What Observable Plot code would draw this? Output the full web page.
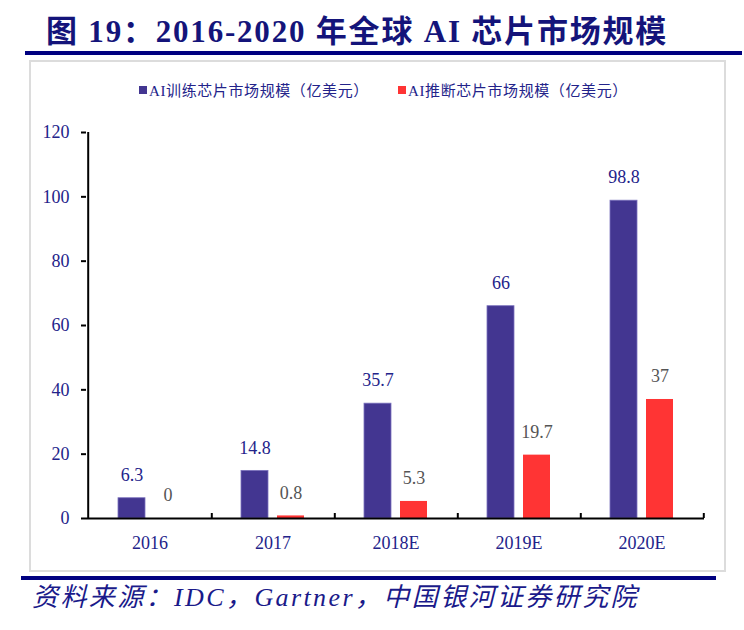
<!DOCTYPE html>
<html><head><meta charset="utf-8">
<script src="https://cdn.jsdelivr.net/npm/d3@7"></script>
<script src="https://cdn.jsdelivr.net/npm/@observablehq/plot@0.6"></script>
<style>
body{margin:0;background:#fff;}
#wrap{position:relative;width:744px;height:630px;overflow:hidden;background:#fff;}
#title{position:absolute;left:46px;top:12px;line-height:40px;font-family:"Liberation Serif","Noto Sans CJK SC",serif;font-weight:bold;font-size:31px;letter-spacing:1.8px;color:#14147a;white-space:nowrap;}
.rule{position:absolute;height:4px;background:#000080;}
#box{position:absolute;left:29px;top:60px;width:693px;height:508px;border:2px solid #dcdcdc;}
#legend{position:absolute;top:79px;left:0;width:744px;height:20px;font-family:"Liberation Serif","Noto Sans CJK SC",serif;font-size:15px;letter-spacing:0.6px;color:#23238a;}
.item{position:absolute;display:flex;align-items:center;white-space:nowrap;}
.sw{width:8px;height:8px;margin-right:2px;}
#chart{position:absolute;left:0;top:100px;}
#source{position:absolute;left:32px;top:583px;line-height:30px;font-family:"Liberation Serif","Noto Sans CJK SC",serif;font-style:italic;font-size:26px;letter-spacing:2.4px;color:#1a1a8a;white-space:nowrap;}
</style></head><body>
<div id="wrap">
 <div id="title">图 19：2016-2020 年全球 AI 芯片市场规模</div>
 <div class="rule" style="left:25px;top:51px;width:717px;"></div>
 <div id="box"></div>
 <div id="legend"></div>
 <div id="chart"></div>
 <div class="rule" style="left:21px;top:576px;width:695px;"></div>
 <div id="source">资料来源：IDC，Gartner，中国银河证券研究院</div>
</div>
<script>
const years = ["2016", "2017", "2018E", "2019E", "2020E"];
const trainValues = [6.3, 14.8, 35.7, 66, 98.8];
const inferValues = [0, 0.8, 5.3, 19.7, 37];
const seriesNames = ["AI训练芯片市场规模（亿美元）", "AI推断芯片市场规模（亿美元）"];
const seriesColors = ["#433691", "#ff3434"];
const yTicks = [0, 20, 40, 60, 80, 100, 120];

const train = years.map((y, i) => ({year: y, value: trainValues[i]}));
const infer = years.map((y, i) => ({year: y, value: inferValues[i]}));

const navy = "#23238a";
const W = 744, H = 470, ML = 86, MR = 40, MT = 32, MB = 52;
const bw = (W - ML - MR) / years.length;

const chart = Plot.plot({
  width: W, height: H,
  marginLeft: ML, marginRight: MR, marginTop: MT, marginBottom: MB,
  style: {fontFamily: "'Liberation Serif', serif", background: "transparent"},
  x: {type: "band", domain: years, padding: 0, label: null},
  y: {domain: [0, 120], label: null},
  marks: [
    Plot.barY(train, {x: "year", y: "value", fill: seriesColors[0], stroke: "#7b72bd", strokeWidth: 0.8, insetLeft: 30, insetRight: 66}),
    Plot.barY(infer, {x: "year", y: "value", fill: seriesColors[1], insetLeft: 66, insetRight: 30}),
    Plot.text(train, {x: "year", y: "value", text: d => String(d.value), dx: -18, dy: -23, fill: navy, fontSize: 18}),
    Plot.text(infer, {x: "year", y: "value", text: d => String(d.value), dx: 18, dy: -23, fill: "#555555", fontSize: 18}),
    Plot.ruleY([0], {stroke: "#000", strokeWidth: 2}),
    Plot.ruleX([years[0]], {x: d => d, dx: -bw / 2, stroke: "#000", strokeWidth: 2}),
    Plot.ruleX(years, {x: d => d, dx: bw / 2, y1: 0, y2: 0, insetTop: -5, stroke: "#000", strokeWidth: 2}),
    Plot.axisY(yTicks, {label: null, tickSize: 5, tickPadding: 12, fontSize: 18, fill: navy, stroke: "#000", strokeWidth: 2, tickFormat: d => String(d)}),
    Plot.axisX({label: null, tickSize: 0, tickPadding: 18, fontSize: 18, fill: navy})
  ]
});
document.getElementById("chart").appendChild(chart);

const legend = document.getElementById("legend");
const lefts = [139, 398];
seriesNames.forEach((name, i) => {
  const it = document.createElement("div");
  it.className = "item";
  it.style.left = lefts[i] + "px";
  const sw = document.createElement("span");
  sw.className = "sw";
  sw.style.background = seriesColors[i];
  const tx = document.createElement("span");
  tx.textContent = name;
  it.appendChild(sw); it.appendChild(tx);
  legend.appendChild(it);
});
</script>
</body></html>
